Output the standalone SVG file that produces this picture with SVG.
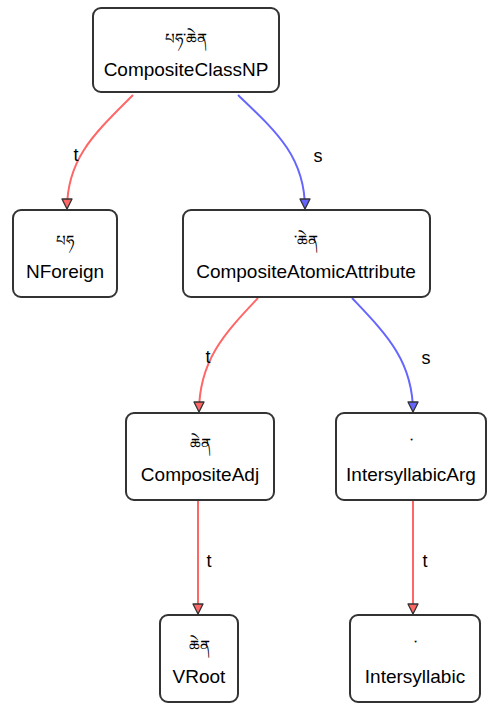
<svg xmlns="http://www.w3.org/2000/svg" width="489" height="705" viewBox="0 0 489 705">
  <style>
    .box { fill: #ffffff; stroke: #333333; stroke-width: 2; }
    .lbl { font-family: "Liberation Sans", Arial, sans-serif; font-size: 19px; fill: #000000; text-anchor: middle; }
    .tib { font-family: "Noto Sans Tibetan", "Noto Sans", "DejaVu Sans", sans-serif; font-size: 15px; fill: #000000; text-anchor: middle; }
    .edge-t { fill: none; stroke: #ff6666; stroke-width: 2; }
    .edge-s { fill: none; stroke: #6666ff; stroke-width: 2; }
    .elbl { font-family: "Liberation Sans", Arial, sans-serif; font-size: 18px; fill: #000000; text-anchor: middle; }
  </style>
  <defs>
    <marker id="arrow-t" viewBox="0 0 12 12" refX="6" refY="11" markerWidth="12" markerHeight="12" markerUnits="userSpaceOnUse" orient="0">
      <path d="M1,1 L11,1 L6,11 Z" fill="#ff6666" stroke="#333333" stroke-width="1.3" stroke-linejoin="round"/>
    </marker>
    <marker id="arrow-s" viewBox="0 0 12 12" refX="6" refY="11" markerWidth="12" markerHeight="12" markerUnits="userSpaceOnUse" orient="0">
      <path d="M1,1 L11,1 L6,11 Z" fill="#6666ff" stroke="#333333" stroke-width="1.3" stroke-linejoin="round"/>
    </marker>
  </defs>

  <g id="connectors">
    <path class="edge-t" d="M133,95 C95,133 67,158 67,209" marker-end="url(#arrow-t)"/>
    <text class="elbl" x="76" y="161">t</text>
    <path class="edge-s" d="M238,95 C278,133 305,158 305,209" marker-end="url(#arrow-s)"/>
    <text class="elbl" x="318" y="162">s</text>

    <path class="edge-t" d="M258,298 C225,333 199,360 199,412" marker-end="url(#arrow-t)"/>
    <text class="elbl" x="208" y="363">t</text>
    <path class="edge-s" d="M352,298 C385,333 413,360 413,412" marker-end="url(#arrow-s)"/>
    <text class="elbl" x="426" y="364">s</text>

    <path class="edge-t" d="M198,501 L198,614" marker-end="url(#arrow-t)"/>
    <text class="elbl" x="209" y="567">t</text>
    <path class="edge-t" d="M413,501 L413,614" marker-end="url(#arrow-t)"/>
    <text class="elbl" x="425" y="567">t</text>
  </g>

  <g id="node-CompositeClassNP">
    <rect class="box" x="93" y="8" width="186" height="84" rx="8"/>
    <text class="tib" x="186" y="44">པཧ་ཆེན</text>
    <text class="lbl" x="186" y="76">CompositeClassNP</text>
  </g>

  <g id="node-NForeign">
    <rect class="box" x="13" y="210" width="104" height="87" rx="8"/>
    <text class="tib" x="65" y="246">པཧ</text>
    <text class="lbl" x="65" y="278">NForeign</text>
  </g>

  <g id="node-CompositeAtomicAttribute">
    <rect class="box" x="183" y="210" width="247" height="87" rx="8"/>
    <text class="tib" x="306" y="246">་ཆེན</text>
    <text class="lbl" x="306" y="278">CompositeAtomicAttribute</text>
  </g>

  <g id="node-CompositeAdj">
    <rect class="box" x="126" y="413" width="148" height="87" rx="8"/>
    <text class="tib" x="200" y="449">ཆེན</text>
    <text class="lbl" x="200" y="481">CompositeAdj</text>
  </g>

  <g id="node-IntersyllabicArg">
    <rect class="box" x="336" y="413" width="150" height="87" rx="8"/>
    <text class="tib" x="411" y="449">་</text>
    <text class="lbl" x="411" y="481">IntersyllabicArg</text>
  </g>

  <g id="node-VRoot">
    <rect class="box" x="160" y="615" width="78" height="87" rx="8"/>
    <text class="tib" x="199" y="651">ཆེན</text>
    <text class="lbl" x="199" y="683">VRoot</text>
  </g>

  <g id="node-Intersyllabic">
    <rect class="box" x="350" y="615" width="130" height="87" rx="8"/>
    <text class="tib" x="415" y="651">་</text>
    <text class="lbl" x="415" y="683">Intersyllabic</text>
  </g>
</svg>
